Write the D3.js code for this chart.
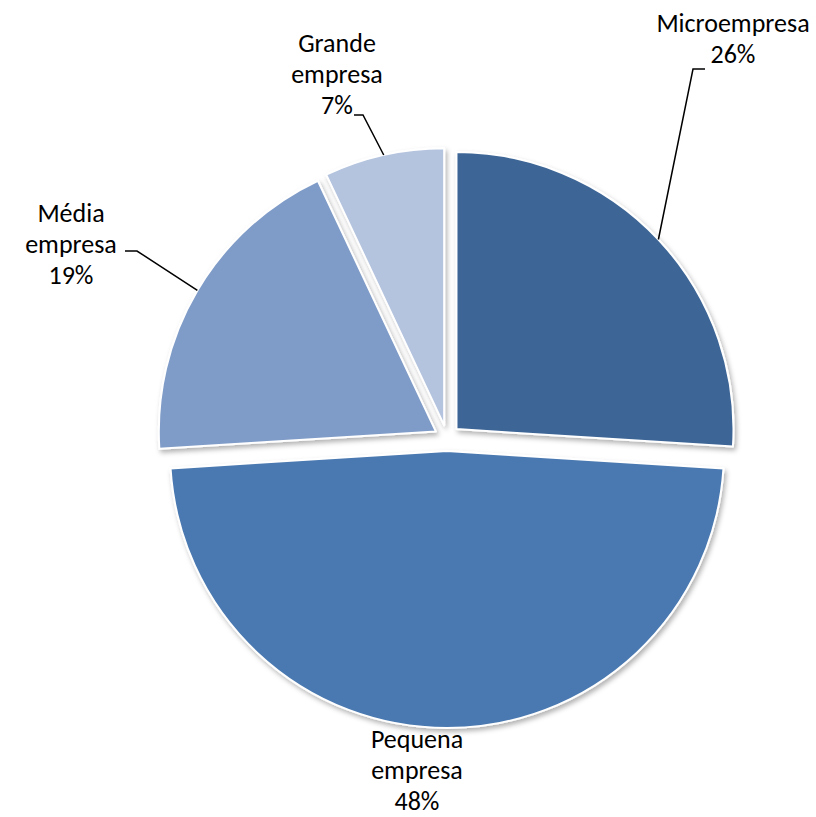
<!DOCTYPE html>
<html>
<head>
<meta charset="utf-8">
<script src="https://d3js.org/d3.v7.min.js"></script>
<style>
  body { margin: 0; background: white; }
  text { font-family: Carlito, Calibri, Lato, "Open Sans", sans-serif; fill: #000; }
</style>
</head>
<body>
<svg id="chart" width="816" height="817"></svg>
<script>
// chart data
var categories = ["Microempresa", "Pequena empresa", "Média empresa", "Grande empresa"];
var shares = [26, 48, 19, 7];
var labelLines = [["Microempresa"], ["Pequena", "empresa"], ["Média", "empresa"], ["Grande", "empresa"]];
var colors = ["#3c6596", "#4a79b0", "#7f9bc7", "#b4c3de"];

var width = 816, height = 817;
var cx = 447, cy = 438;
var radius = 277;
var explode = 13;

// label placement (text centre x, first baseline y, leader elbow, leader end)
var labelLayout = [
  { x: 733, y: 32, elbow: [693, 69], end: [705, 69] },
  { x: 417, y: 748, elbow: null, end: null },
  { x: 71, y: 222, elbow: [137, 251], end: [125, 251] },
  { x: 337, y: 52, elbow: [363, 115], end: [354, 115] }
];

var svg = d3.select("#chart");

var defs = svg.append("defs");
var filter = defs.append("filter").attr("id", "shadow")
  .attr("x", "-10%").attr("y", "-10%").attr("width", "120%").attr("height", "120%");
filter.append("feDropShadow")
  .attr("dx", 2).attr("dy", 3).attr("stdDeviation", 2.5)
  .attr("flood-color", "#000").attr("flood-opacity", 0.3);

var pie = d3.pie().sort(null).value(function(d) { return d; });
var arc = d3.arc().innerRadius(0).outerRadius(radius);
var arcs = pie(shares);

function mid(d) { return (d.startAngle + d.endAngle) / 2; }

var g = svg.append("g").attr("transform", "translate(" + cx + "," + cy + ")");

g.selectAll("path.slice").data(arcs).enter().append("path")
  .attr("class", "slice")
  .attr("d", arc)
  .attr("transform", function(d) {
    var a = mid(d);
    return "translate(" + (Math.sin(a) * explode) + "," + (-Math.cos(a) * explode) + ")";
  })
  .attr("fill", function(d, i) { return colors[i]; })
  .attr("stroke", "#fff")
  .attr("stroke-width", 2)
  .attr("stroke-linejoin", "round")
  .attr("filter", "url(#shadow)");

// leader lines
arcs.forEach(function(d, i) {
  var L = labelLayout[i];
  if (!L.elbow) return;
  var a = mid(d);
  var px = cx + Math.sin(a) * (explode + radius);
  var py = cy - Math.cos(a) * (explode + radius);
  svg.append("polyline")
    .attr("points", [[px, py], L.elbow, L.end].map(function(p) { return p.join(","); }).join(" "))
    .attr("fill", "none")
    .attr("stroke", "#000")
    .attr("stroke-width", 1.5);
});

// labels
arcs.forEach(function(d, i) {
  var L = labelLayout[i];
  var lines = labelLines[i].concat([shares[i] + "%"]);
  var t = svg.append("text")
    .attr("text-anchor", "middle")
    .style("font-size", "26px");
  lines.forEach(function(s, k) {
    t.append("tspan").attr("x", L.x).attr("y", L.y + k * 31).text(s);
  });
});
</script>
</body>
</html>
